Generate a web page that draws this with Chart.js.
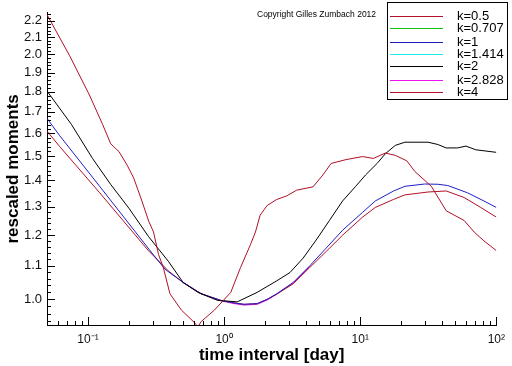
<!DOCTYPE html>
<html>
<head>
<meta charset="utf-8">
<script src="https://cdn.jsdelivr.net/npm/chart.js@4"></script>
<style>
  html, body { margin: 0; padding: 0; background: #fff; }
  #wrap { width: 512px; height: 366px; position: relative; }
</style>
</head>
<body>
<div id="wrap"><canvas id="c" width="512" height="366"></canvas></div>
<script>
// values (x in days, y = rescaled moment)
const days_k05 = [0.05, 0.062, 0.121, 0.279, 0.389, 0.5, 0.678, 0.948, 1.185, 1.40, 1.75, 2.07, 2.44, 3.22, 4.25, 5.62, 7.42, 10.4, 12.9, 17.6, 21.3, 31.5, 42.8, 58, 76.8, 100];
const mom_k05  = [1.610, 1.541, 1.354, 1.147, 1.084, 1.049, 1.016, 0.997, 0.990, 0.986, 0.988, 1.000, 1.015, 1.045, 1.094, 1.145, 1.199, 1.262, 1.297, 1.327, 1.344, 1.355, 1.359, 1.334, 1.297, 1.262];

const days_k0707 = [];
const mom_k0707  = [];

const days_k1 = [0.05, 0.062, 0.121, 0.287, 0.368, 0.5, 0.678, 0.948, 1.185, 1.40, 1.75, 2.07, 2.44, 3.22, 4.25, 5.62, 7.42, 10.4, 12.9, 17.6, 21.3, 29.8, 37.2, 44, 61.4, 81.1, 100];
const mom_k1  = [1.669, 1.589, 1.379, 1.147, 1.089, 1.049, 1.016, 0.997, 0.990, 0.986, 0.988, 1.000, 1.016, 1.049, 1.099, 1.156, 1.216, 1.279, 1.321, 1.359, 1.377, 1.386, 1.385, 1.380, 1.352, 1.321, 1.297];

const days_k1414 = [];
const mom_k1414  = [];

const days_k2 = [0.05, 0.0755, 0.108, 0.147, 0.2, 0.279, 0.389, 0.5, 0.642, 0.897, 1.25, 1.75, 2.44, 3.05, 3.81, 4.75, 5.94, 7.42, 9.27, 10.95, 13.3, 15.3, 18.1, 21.3, 31.5, 37.2, 42.8, 52, 59.8, 70.6, 100];
const mom_k2  = [1.803, 1.641, 1.490, 1.384, 1.294, 1.194, 1.114, 1.049, 1.020, 0.997, 0.993, 1.020, 1.054, 1.079, 1.124, 1.183, 1.250, 1.321, 1.377, 1.422, 1.469, 1.510, 1.546, 1.560, 1.560, 1.550, 1.535, 1.535, 1.543, 1.527, 1.516];

const days_k2828 = [0.5, 0.678, 0.948, 1.185, 1.40, 1.75, 2.07, 2.44, 3.22, 4.25];
const mom_k2828  = [1.049, 1.016, 0.996, 0.988, 0.984, 0.986, 0.998, 1.015, 1.048, 1.098];

const days_k4 = [0.05, 0.0734, 0.1025, 0.128, 0.147, 0.169, 0.194, 0.217, 0.249, 0.279, 0.303, 0.33, 0.358, 0.40, 0.486, 0.611, 0.642, 0.678, 0.849, 1.12, 1.32, 1.56, 1.70, 1.84, 2.07, 2.44, 2.88, 3.41, 4.50, 5.32, 6.11, 7.85, 10.4, 12.5, 15.3, 18.1, 22, 25.2, 33.3, 42.8, 58, 68.7, 81.1, 100];
const mom_k4  = [2.238, 1.992, 1.783, 1.641, 1.553, 1.519, 1.462, 1.409, 1.321, 1.248, 1.210, 1.135, 1.094, 1.016, 0.970, 0.935, 0.925, 0.939, 0.970, 1.020, 1.094, 1.167, 1.210, 1.269, 1.304, 1.327, 1.340, 1.362, 1.375, 1.422, 1.469, 1.485, 1.498, 1.490, 1.513, 1.503, 1.480, 1.436, 1.377, 1.285, 1.250, 1.210, 1.180, 1.148];

const seriesLabels = ['k=0.5', 'k=0.707', 'k=1', 'k=1.414', 'k=2', 'k=2.828', 'k=4'];
const seriesColors = ['#b0102a', '#10c010', '#2020c0', '#20e8e8', '#000000', '#f010f0', '#b0102a'];
const seriesDays = [days_k05, days_k0707, days_k1, days_k1414, days_k2, days_k2828, days_k4];
const seriesMoms = [mom_k05, mom_k0707, mom_k1, mom_k1414, mom_k2, mom_k2828, mom_k4];
const drawOrder = [3, 6, 2, 6, 1, 4, 0];

const xTickVals = [0.1, 1, 10, 100];
const xTickLabels = ['10\u207B\u00B9', '10\u2070', '10\u00B9', '10\u00B2'];
const yTickVals = [1.0, 1.1, 1.2, 1.3, 1.4, 1.5, 1.6, 1.7, 1.8, 1.9, 2.0, 2.1, 2.2];
const yTickLabels = ['1.0', '1.1', '1.2', '1.3', '1.4', '1.5', '1.6', '1.7', '1.8', '1.9', '2.0', '2.1', '2.2'];

const FONT = "'Liberation Sans', Arial, sans-serif";
Chart.defaults.font.family = FONT;

// minor tick positions
const xMinor = [];
[0.01, 0.1, 1, 10].forEach(d => { for (let m = 2; m <= 9; m++) { const v = d * m; if (v >= 0.05 && v < 100) xMinor.push(v); } });
const yMinor = [];
for (let i = 94; i <= 224; i += 2) { if (i % 10 !== 0) yMinor.push(i / 100); }

// tick marks drawn inwards, like the original
const tickMarks = {
  id: 'tickMarks',
  afterDraw(chart) {
    const { ctx, chartArea: a, scales: { x, y } } = chart;
    ctx.save();
    ctx.strokeStyle = '#000';
    ctx.lineWidth = 1;
    ctx.beginPath();
    const xt = (v, len) => { const p = Math.round(x.getPixelForValue(v)) + 0.5; ctx.moveTo(p, a.bottom); ctx.lineTo(p, a.bottom - len); };
    const yt = (v, len) => { const p = Math.round(y.getPixelForValue(v)) + 0.5; ctx.moveTo(a.left, p); ctx.lineTo(a.left + len, p); };
    xTickVals.forEach(v => xt(v, 8));
    xMinor.forEach(v => xt(v, 4));
    yTickVals.forEach(v => yt(v, 8));
    yMinor.forEach(v => yt(v, 4));
    ctx.stroke();
    ctx.restore();
  }
};

// boxed legend in the top right corner + copyright note
const legendRows = [16, 28, 42, 54, 66, 80, 92];
const boxLegend = {
  id: 'boxLegend',
  afterDraw(chart) {
    const ctx = chart.ctx;
    ctx.save();
    ctx.fillStyle = '#000';
    ctx.font = '8.5px ' + FONT;
    ctx.textBaseline = 'middle';
    ctx.fillText('Copyright Gilles Zumbach 2012', 257, 15);

    ctx.fillStyle = '#fff';
    ctx.fillRect(387, 2, 121, 98);
    ctx.strokeStyle = '#000';
    ctx.lineWidth = 1;
    ctx.strokeRect(387.5, 2.5, 120, 97);
    ctx.font = '13px ' + FONT;
    seriesLabels.forEach((lab, i) => {
      const yy = legendRows[i];
      ctx.fillStyle = seriesColors[i];
      ctx.fillRect(390, yy, 53, 1);
      ctx.fillStyle = '#000';
      ctx.fillText(lab, 457, yy);
    });
    ctx.restore();
  }
};

new Chart(document.getElementById('c'), {
  type: 'scatter',
  data: {
    datasets: seriesLabels.map((lab, i) => ({
      label: lab,
      data: seriesDays[i].map((d, j) => ({ x: d, y: seriesMoms[i][j] })),
      borderColor: seriesColors[i],
      backgroundColor: seriesColors[i],
      showLine: true,
      fill: false,
      tension: 0,
      borderWidth: 1,
      pointRadius: 0,
      order: drawOrder[i],
    })),
  },
  options: {
    responsive: false,
    animation: false,
    events: [],
    layout: { padding: { top: 5, right: 9, left: 0, bottom: 0 } },
    plugins: {
      legend: { display: false },
      tooltip: { enabled: false },
    },
    scales: {
      x: {
        type: 'logarithmic',
        position: 'bottom',
        min: 0.05,
        max: 100,
        afterBuildTicks: s => { s.ticks = xTickVals.map(v => ({ value: v })); },
        afterFit: s => { s.height = 41; },
        grid: { display: false, drawTicks: false },
        border: { display: true, color: '#000', width: 1 },
        ticks: {
          autoSkip: false,
          maxRotation: 0,
          padding: 7,
          color: '#111',
          font: { size: 12 },
          callback: (v, i) => xTickLabels[i],
        },
        title: {
          display: true,
          text: 'time interval [day]',
          color: '#000',
          font: { size: 17, weight: 'bold' },
          padding: { top: 0, bottom: 0 },
        },
      },
      y: {
        type: 'logarithmic',
        min: 0.93,
        max: 2.25,
        afterBuildTicks: s => { s.ticks = yTickVals.map(v => ({ value: v })); },
        afterFit: s => { s.width = 47; },
        grid: { display: false, drawTicks: false },
        border: { display: true, color: '#000', width: 1 },
        ticks: {
          autoSkip: false,
          padding: 5,
          color: '#111',
          font: { size: 13 },
          callback: (v, i) => yTickLabels[i],
        },
        title: {
          display: true,
          text: 'rescaled moments',
          color: '#000',
          font: { size: 17, weight: 'bold' },
          padding: { top: 3, bottom: 0 },
        },
      },
    },
  },
  plugins: [tickMarks, boxLegend],
});
</script>
</body>
</html>
